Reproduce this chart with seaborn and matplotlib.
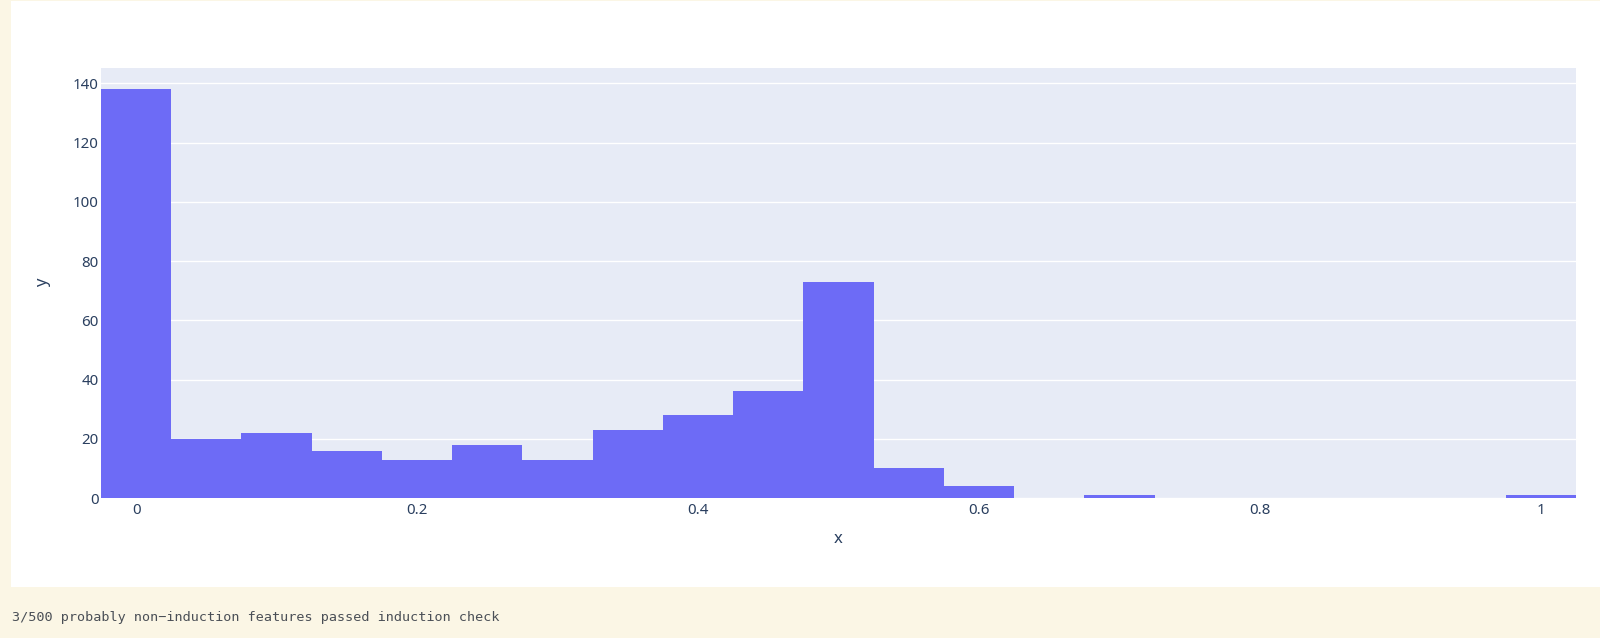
import numpy as np
import pandas as pd
import matplotlib
matplotlib.use("Agg")
import matplotlib.pyplot as plt
import seaborn as sns

# ---- data ----
bin_centers = [0.0, 0.05, 0.1, 0.15, 0.2, 0.25, 0.3, 0.35, 0.4, 0.45, 0.5,
               0.55, 0.6, 0.65, 0.7, 0.75, 0.8, 0.85, 0.9, 0.95, 1.0]
counts = [138, 20, 22, 16, 13, 18, 13, 23, 28, 36, 73,
          10, 4, 0, 1, 0, 0, 0, 0, 0, 1]
x_ticks = [0, 0.2, 0.4, 0.6, 0.8, 1.0]
x_tick_labels = ["0", "0.2", "0.4", "0.6", "0.8", "1"]
y_ticks = [0, 20, 40, 60, 80, 100, 120, 140]
y_tick_labels = ["0", "20", "40", "60", "80", "100", "120", "140"]
caption = "3/500 probably non\u2212induction features passed induction check"

df = pd.DataFrame({"x": bin_centers, "count": counts})

sns.set_theme(style="white")
plt.rcParams["font.family"] = ["Noto Sans", "DejaVu Sans"]

W, H = 1600, 638
fig = plt.figure(figsize=(W / 100, H / 100), dpi=100)
fig.patch.set_facecolor("#fbf6e5")

# white card (background axes)
bg = fig.add_axes([11 / W, (H - 587) / H, 1 - 11 / W, (587 - 1) / H], zorder=0)
bg.set_facecolor("white")
bg.set_xticks([])
bg.set_yticks([])
for s in bg.spines.values():
    s.set_visible(False)

ax = fig.add_axes([101 / W, (H - 498) / H, (1576 - 101) / W, (498 - 68) / H], zorder=1)
ax.set_facecolor("#e7ebf6")

sns.histplot(data=df, x="x", weights="count", binwidth=0.05,
             binrange=(-0.025, 1.025), color="#6d6bf6", alpha=1.0,
             linewidth=0, ax=ax, zorder=3)

ax.set_xlim(-0.025, 1.025)
ax.set_ylim(0, 145.2)
ax.set_xticks(x_ticks)
ax.set_xticklabels(x_tick_labels)
ax.set_yticks(y_ticks)
ax.set_yticklabels(y_tick_labels)

ax.grid(False)
ax.yaxis.grid(True, color="white", linewidth=1.0, zorder=1)
ax.set_axisbelow(True)
for s in ax.spines.values():
    s.set_visible(False)

tick_color = "#2a3f5f"
ax.tick_params(axis="x", length=0, pad=3.6, labelsize=10.8, labelcolor=tick_color)
ax.tick_params(axis="y", length=0, pad=1.5, labelsize=10.8, labelcolor=tick_color)

ax.set_xlabel("x", fontsize=12.0, color=tick_color)
ax.set_ylabel("y", fontsize=12.0, color=tick_color)
ax.xaxis.set_label_coords(0.5, (498 - 539) / 430)
ax.xaxis.label.set_va("center")
ax.yaxis.set_label_coords((43 - 101) / 1475, 0.5)
ax.yaxis.label.set_va("center")

fig.text(12 / W, (H - 617) / H, caption, family=["DejaVu Sans Mono"],
         fontsize=9.7, color="#4a4f56", ha="left", va="center")

fig.savefig("out.png", dpi=100, facecolor=fig.get_facecolor())
